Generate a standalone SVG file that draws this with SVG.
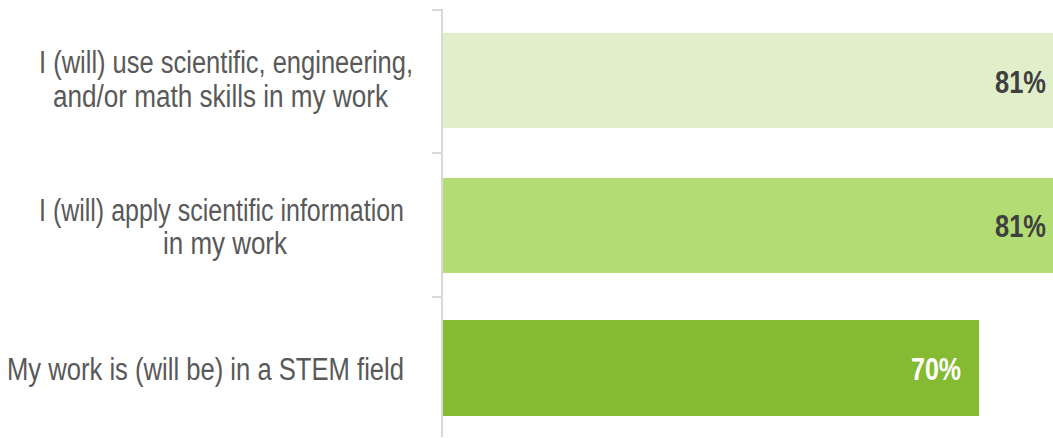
<svg xmlns="http://www.w3.org/2000/svg" width="1053" height="438" viewBox="0 0 1053 438">
<style>
.lbl{font-family:"Liberation Sans",Arial,sans-serif;font-size:31px;fill:#595959}
.val{font-family:"Liberation Sans",Arial,sans-serif;font-size:32px;font-weight:bold}
.axis{stroke:#D9D9D9;stroke-width:2;fill:none}
</style>
<rect width="1053" height="438" fill="#FFFFFF"/>
<g id="axis">
<path class="axis" d="M442 9V437M432 10H442M432 153H442M432 297H442"/>
</g>
<g id="bar1">
<rect x="443" y="33" width="610" height="95" fill="#E0EFC9"/>
<text class="val" x="995" y="93" fill="#404040" textLength="51" lengthAdjust="spacingAndGlyphs">81%</text>
<text class="lbl" x="39" y="73" textLength="374" lengthAdjust="spacingAndGlyphs">I (will) use scientific, engineering,</text>
<text class="lbl" x="53" y="107" textLength="335" lengthAdjust="spacingAndGlyphs">and/or math skills in my work</text>
</g>
<g id="bar2">
<rect x="443" y="178" width="610" height="95" fill="#B3DD74"/>
<text class="val" x="995" y="237" fill="#404040" textLength="51" lengthAdjust="spacingAndGlyphs">81%</text>
<text class="lbl" x="39" y="221" textLength="365" lengthAdjust="spacingAndGlyphs">I (will) apply scientific information</text>
<text class="lbl" x="163" y="254" textLength="124" lengthAdjust="spacingAndGlyphs">in my work</text>
</g>
<g id="bar3">
<rect x="443" y="320" width="536" height="96" fill="#85BB33"/>
<text class="val" x="911" y="380" fill="#FFFFFF" textLength="50" lengthAdjust="spacingAndGlyphs">70%</text>
<text class="lbl" x="7" y="380" textLength="397" lengthAdjust="spacingAndGlyphs">My work is (will be) in a STEM field</text>
</g>
</svg>
